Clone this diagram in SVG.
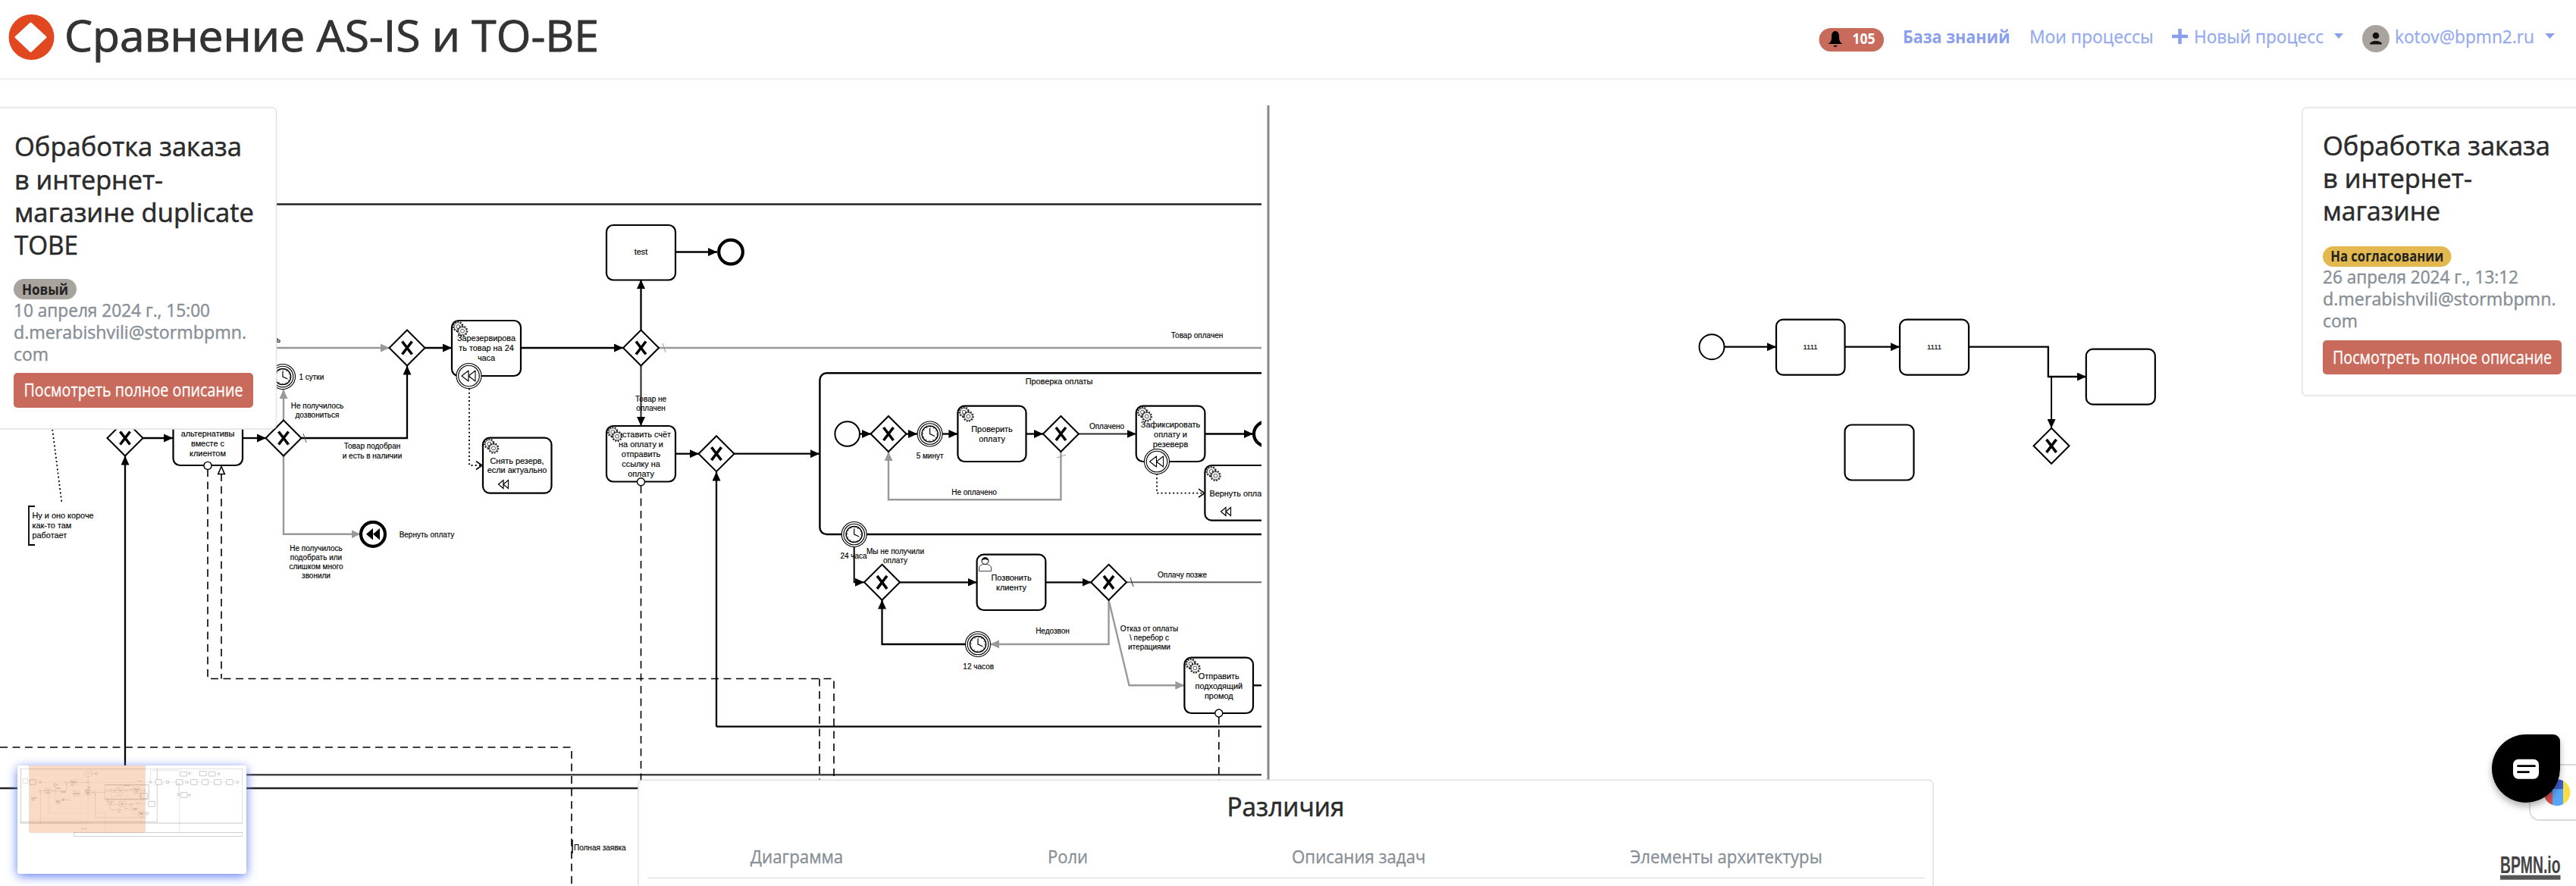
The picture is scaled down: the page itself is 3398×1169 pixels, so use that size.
<svg xmlns="http://www.w3.org/2000/svg" width="3398" height="1169" viewBox="0 0 3398 1169">
<style>
text{font-family:"Liberation Sans",Arial,sans-serif;fill:#000}
.t{font-size:10.9px;text-anchor:middle;stroke:#000;stroke-width:.15}
.l{font-size:10px;text-anchor:middle;stroke:#000;stroke-width:.15}
.a{font-size:10.9px;stroke:#000;stroke-width:.15}
.h{font-family:"Open Sans","Noto Sans",sans-serif;fill:#333;stroke:#333;stroke-width:.9}
.ct{font-family:"Open Sans","Noto Sans",sans-serif;font-size:34px;fill:#2b2b2b;stroke:#2b2b2b;stroke-width:.55}
.m{font-family:"Open Sans","Noto Sans",sans-serif;font-size:24px;fill:#868e96;stroke:#868e96;stroke-width:.4}
.nav{font-family:"Open Sans","Noto Sans",sans-serif;font-size:24px;fill:#95a9ef;stroke:#95a9ef;stroke-width:.3}
.btn{font-family:"Open Sans","Noto Sans",sans-serif;font-size:24px;fill:#fff;stroke:#fff;stroke-width:.3;text-anchor:middle}
.tab{font-family:"Open Sans","Noto Sans",sans-serif;font-size:24px;fill:#868e96;stroke:#868e96;stroke-width:.3;text-anchor:middle}
.task{fill:#fff;stroke:#000;stroke-width:2.2}
.f{fill:none;stroke:#000;stroke-width:2.3}
.fd{fill:none;stroke:#2a2a2a;stroke-width:2.1}
.g{fill:none;stroke:#999;stroke-width:2.4}
.th{fill:none;stroke:#999;stroke-width:1}
.d{fill:none;stroke:#000;stroke-width:1.6;stroke-dasharray:10 6.5}
.dot{fill:none;stroke:#000;stroke-width:1.8;stroke-dasharray:2 3.2}
.lane{fill:none;stroke:#222;stroke-width:2.4}
.card{fill:#fff;stroke:#e2e2e2;stroke-width:1.5}
.ev{fill:#fff;stroke:#000;stroke-width:2}
.evend{fill:#fff;stroke:#000;stroke-width:4.2}
</style>
<defs>
<marker id="ab" markerUnits="userSpaceOnUse" markerWidth="13" markerHeight="11" refX="12" refY="5.5" orient="auto"><path d="M0 0L12 5.5L0 11Z" fill="#000"/></marker>
<marker id="ag" markerUnits="userSpaceOnUse" markerWidth="13" markerHeight="11" refX="12" refY="5.5" orient="auto"><path d="M0 0L12 5.5L0 11Z" fill="#999"/></marker>
<marker id="ao" markerUnits="userSpaceOnUse" markerWidth="11" markerHeight="13" refX="9" refY="6.5" orient="auto"><path d="M1 1L9 6.5L1 12" fill="none" stroke="#000" stroke-width="1.6"/></marker>
<g id="gw"><polygon points="0,-23.5 23.5,0 0,23.5 -23.5,0" fill="#fff" stroke="#000" stroke-width="2"/><path d="M-6.5 -8.5L6.5 8.5M6.5 -8.5L-6.5 8.5" fill="none" stroke="#000" stroke-width="3.6"/></g>
<g id="cog"><circle r="6.3" fill="none" stroke="#222" stroke-width="2" stroke-dasharray="1.9 1.6"/><circle r="5.2" fill="#fff" stroke="#222" stroke-width=".8"/><circle r="2.5" fill="#fff" stroke="#222" stroke-width=".8"/></g>
<g id="gears"><use href="#cog" x="8.3" y="8"/><use href="#cog" x="14" y="13.7"/></g>
<g id="timer"><circle r="16.5" fill="#fff" stroke="#000" stroke-width="1.1"/><circle r="13.8" fill="none" stroke="#000" stroke-width="1.1"/><circle r="10.6" fill="#fff" stroke="#000" stroke-width="1.5"/><circle r="9" fill="none" stroke="#000" stroke-width="1.2" stroke-dasharray=".8 3.9"/><path d="M0 -7.5L0 0L6.5 3" fill="none" stroke="#000" stroke-width="1.2"/></g>
<g id="comp"><circle r="16.5" fill="#fff" stroke="#000" stroke-width="1.1"/><circle r="13.8" fill="none" stroke="#000" stroke-width="1.1"/><path d="M-9.5 0L-0.5 -7V7ZM-0.5 0L8.500 -7V7Z" fill="#fff" stroke="#000" stroke-width="1.1" stroke-linejoin="round"/></g>
<path id="cm" d="M-6.5 0L0 -5.5V5.5ZM0 0L6.5 -5.5V5.5Z" fill="#fff" stroke="#000" stroke-width="1.2"/>
<g id="msg"><circle r="5" fill="#fff" stroke="#000" stroke-width="1.4"/></g>
<clipPath id="leftpane"><rect x="0" y="0" width="1664" height="1169"/></clipPath>
<clipPath id="mini"><rect x="23" y="1010" width="302" height="143" rx="4"/></clipPath>
<clipPath id="gbtn"><circle cx="3373" cy="1045.7" r="17.5"/></clipPath>
<filter id="blue" x="-15%" y="-30%" width="130%" height="160%"><feDropShadow dx="0" dy="3" stdDeviation="7" flood-color="#5f7cf5" flood-opacity="1"/></filter>
<filter id="sh" x="-30%" y="-30%" width="160%" height="160%"><feDropShadow dx="0" dy="5" stdDeviation="5" flood-color="#000" flood-opacity=".3"/></filter>
<filter id="soft" x="0" y="0" width="100%" height="100%"><feGaussianBlur stdDeviation=".45"/></filter>
</defs>
<rect width="3398" height="1169" fill="#fff"/>

<g id="tobe-diagram" clip-path="url(#leftpane)">
<g id="connectors">
<path class="lane" d="M0 269.5H1664M0 1040H850"/>
<path class="lane" d="M30 1022.300H1664" style="stroke:#444"/>
<path class="f" d="M188 578H228" marker-end="url(#ab)"/>
<path class="f" d="M320 578H351" marker-end="url(#ab)"/>
<path class="f" d="M165 1040V601.5" marker-end="url(#ab)"/>
<path class="g" d="M374 555V514" marker-end="url(#ag)"/>
<path class="g" d="M374 601V704.800H475.500" marker-end="url(#ag)"/>
<path class="f" d="M397 578H537V482.5" marker-end="url(#ab)"/>
<path class="th" d="M400 572L404 584" style="stroke:#555"/>
<path class="g" d="M120 459H514" marker-end="url(#ag)"/>
<path class="f" d="M560 459H596" marker-end="url(#ab)"/>
<path class="f" d="M687 459H822" marker-end="url(#ab)"/>
<path class="f" d="M845.5 436V369" marker-end="url(#ab)"/>
<path class="f" d="M891 332.5H946" marker-end="url(#ab)"/>
<path class="g" d="M868 459H1664"/>
<path class="th" d="M874 453L878 465"/>
<path class="fd" d="M845.5 482V562" marker-end="url(#ab)"/>
<path class="f" d="M891 598.7H922" marker-end="url(#ab)"/>
<path class="f" d="M968 598.7H1081" marker-end="url(#ab)"/>
<path class="f" d="M945 958.7V622.5" marker-end="url(#ab)"/>
<path class="f" d="M945 958.7H1664"/>
<path class="f" d="M1134 572.5H1149" marker-end="url(#ab)"/>
<path class="f" d="M1195 572.5H1210" marker-end="url(#ab)"/>
<path class="f" d="M1243 572.5H1263.4" marker-end="url(#ab)"/>
<path class="f" d="M1353.5 572.5H1376" marker-end="url(#ab)"/>
<path class="fd" d="M1423 572.5H1498.7" marker-end="url(#ab)"/>
<path class="f" d="M1589.4 572.5H1653" marker-end="url(#ab)"/>
<path class="g" d="M1399.4 596V659.3H1172V596" marker-end="url(#ag)"/>
<path class="th" d="M1394 604L1406 600"/>
<path class="f" d="M1126.7 721V768.3H1140" marker-end="url(#ab)" style="stroke-width:2"/>
<path class="f" d="M1186.5 768.3H1288.6" marker-end="url(#ab)"/>
<path class="f" d="M1379.3 768.3H1439.5" marker-end="url(#ab)"/>
<path class="fd" d="M1485.5 768.3H1664" style="stroke:#666"/>
<path class="fd" d="M1491 762L1495 774" style="stroke-width:1"/>
<path class="g" d="M1462.5 791.5V850H1306" marker-end="url(#ag)"/>
<path class="f" d="M1273 850H1163.5V791.5" marker-end="url(#ab)"/>
<path class="g" d="M1462.5 791.5L1489.5 904.3H1562.4" marker-end="url(#ag)"/>
<path class="f" d="M1653 904.3H1664"/>
<path class="d" d="M274 619V895.5H1100V1169"/>
<path class="d" d="M292 625V895.5M1081 895.5V1169"/>
<polygon points="292,615.5 296.3,625.5 287.7,625.5" fill="#fff" stroke="#000" stroke-width="1.6"/>
<path class="d" d="M845.5 641V1030"/>
<path class="d" d="M1607.8 946V1030"/>
<path class="d" d="M0 986H754V1169"/>
<path class="dot" d="M619 512.5V614H636" marker-end="url(#ao)"/>
<path class="dot" d="M1526 625V650.7H1589" marker-end="url(#ao)"/>
<path class="dot" d="M62 510L81.6 664.5"/>
<text class="l" x="370" y="452" style="text-anchor:end">ь</text>
<text class="l" x="394.4" y="500.5" style="text-anchor:start">1 сутки</text>
<text class="l" x="418.5" y="538.5">Не получилось</text>
<text class="l" x="418.5" y="550.5">дозвониться</text>
<text class="l" x="491" y="592.2">Товар подобран</text>
<text class="l" x="491" y="604.5">и есть в наличии</text>
<text class="l" x="417" y="726.5">Не получилось</text>
<text class="l" x="417" y="738.5">подобрать или</text>
<text class="l" x="417" y="750.5">слишком много</text>
<text class="l" x="417" y="762.5">звонили</text>
<text class="l" x="563" y="708.5">Вернуть оплату</text>
<text class="l" x="858.6" y="529.5">Товар не</text>
<text class="l" x="858.6" y="541.5">оплачен</text>
<text class="l" x="1579" y="445.5">Товар оплачен</text>
<text class="l" x="1460" y="565.5">Оплачено</text>
<text class="l" x="1285" y="652.5">Не оплачено</text>
<text class="l" x="1226.6" y="604.5">5 минут</text>
<text class="l" x="1126" y="737.2">24 часа</text>
<text class="l" x="1181" y="730.5">Мы не получили</text>
<text class="l" x="1181" y="742.5">оплату</text>
<text class="l" x="1559.6" y="761.5">Оплачу позже</text>
<text class="l" x="1388.5" y="835.5">Недозвон</text>
<text class="l" x="1290.7" y="882.5">12 часов</text>
<text class="l" x="1516" y="832.5">Отказ от оплаты</text>
<text class="l" x="1516" y="844.5">\ перебор с</text>
<text class="l" x="1516" y="856.5">итерациями</text>
<text class="l" x="757" y="1121.5" style="text-anchor:start">Полная заявка</text>
<path d="M755 1108V1126" stroke="#000" stroke-width="1.5" fill="none"/>
</g>

<g id="n-annotation"><path d="M46 668H38V719H46" fill="none" stroke="#000" stroke-width="1.8"/>
<text class="a" x="42.5" y="683.5">Ну и оно короче</text><text class="a" x="42.5" y="696.5">как-то там</text><text class="a" x="42.5" y="709.5">работает</text></g>
<g id="n-gw1"><use href="#gw" x="165" y="578"/></g>
<g id="n-alt"><rect class="task" x="228.5" y="541" width="91.5" height="73" rx="9"/>
<text class="t" x="274" y="575.5">альтернативы</text><text class="t" x="274" y="588.5">вместе с</text><text class="t" x="274" y="601.5">клиентом</text><use href="#msg" x="274" y="614.4"/></g>
<g id="n-gw2"><use href="#gw" x="374" y="578"/></g>
<g id="n-timer-day"><use href="#timer" x="373" y="497"/></g>
<g id="n-gw3"><use href="#gw" x="537" y="459"/></g>
<g id="n-reserve"><rect class="task" x="596" y="423" width="91" height="73" rx="9"/>
<text class="t" x="641.5" y="450">Зарезервирова</text><text class="t" x="641.5" y="463">ть товар на 24</text><text class="t" x="641.5" y="476">часа</text><use href="#gears" x="596" y="423"/><use href="#comp" x="618.5" y="496"/></g>
<g id="n-unreserve"><rect class="task" x="637" y="577.6" width="90.5" height="73" rx="9"/>
<text class="t" x="682" y="611.5">Снять резерв,</text><text class="t" x="682" y="624">если актуально</text><use href="#gears" x="637" y="577.6"/><use href="#cm" x="664" y="639"/></g>
<g id="n-end-refund"><circle class="evend" cx="492" cy="704.8" r="16"/><path d="M483 704.8L492 697V712.6ZM492 704.8L501 697V712.6Z" fill="#000"/></g>
<g id="n-test"><rect class="task" x="800" y="297" width="91" height="72.5" rx="9"/><text class="t" x="845.5" y="336">test</text></g>
<g id="n-end-test"><circle class="evend" cx="964" cy="332.5" r="15.8"/></g>
<g id="n-gw4"><use href="#gw" x="845.5" y="459"/></g>
<g id="n-invoice"><rect class="task" x="800" y="562" width="91" height="73.5" rx="9"/>
<text class="t" x="845.5" y="576.5">Выставить счёт</text><text class="t" x="845.5" y="589.5">на оплату и</text><text class="t" x="845.5" y="602.5">отправить</text><text class="t" x="845.5" y="615.5">ссылку на</text><text class="t" x="845.5" y="628.5">оплату</text><use href="#gears" x="800" y="562"/><use href="#msg" x="845.5" y="635.7"/></g>
<g id="n-gw5"><use href="#gw" x="945" y="598.7"/></g>
<g id="n-subprocess"><rect x="1081.4" y="492.3" width="800" height="212.7" rx="9" fill="none" stroke="#000" stroke-width="2.4"/><text class="t" x="1397" y="507">Проверка оплаты</text></g>
<g id="n-start-sub"><circle class="ev" cx="1117.7" cy="572.5" r="16.3"/></g>
<g id="n-gw6"><use href="#gw" x="1172" y="572.5"/></g>
<g id="n-timer-5"><use href="#timer" x="1226.6" y="572.5"/></g>
<g id="n-check"><rect class="task" x="1263.4" y="535.7" width="90.1" height="73.3" rx="9"/><text class="t" x="1308.5" y="569.5">Проверить</text><text class="t" x="1308.5" y="582.5">оплату</text><use href="#gears" x="1263.4" y="535.7"/></g>
<g id="n-gw7"><use href="#gw" x="1399.4" y="572.5"/></g>
<g id="n-fix"><rect class="task" x="1498.7" y="535.7" width="90.7" height="73.3" rx="9"/><text class="t" x="1544" y="563.5">Зафиксировать</text><text class="t" x="1544" y="576.5">оплату и</text><text class="t" x="1544" y="589.5">резеверв</text><use href="#gears" x="1498.7" y="535.7"/><use href="#comp" x="1526" y="609"/></g>
<g id="n-end-sub"><circle class="evend" cx="1670" cy="572.5" r="16"/></g>
<g id="n-refund"><rect class="task" x="1589.4" y="614" width="91" height="72.7" rx="9"/><text class="t" x="1635" y="654.5">Вернуть оплату</text><use href="#gears" x="1589.4" y="614"/><use href="#cm" x="1617" y="675"/></g>
<g id="n-timer-24"><use href="#timer" x="1126.7" y="705"/></g>
<g id="n-gw8"><use href="#gw" x="1163.5" y="768.3"/></g>
<g id="n-call"><rect class="task" x="1288.6" y="731.7" width="90.7" height="73.3" rx="9"/><text class="t" x="1334" y="765.5">Позвонить</text><text class="t" x="1334" y="778.5">клиенту</text>
<path d="M1291.5 753.5V749C1291.5 746.5 1295 745 1296.5 744.5H1302C1304 745 1307.5 746.5 1307.5 749V753.5Z" fill="#fff" stroke="#333" stroke-width=".9"/><circle cx="1299.5" cy="740" r="4.5" fill="#fff" stroke="#000" stroke-width="1"/><path d="M1295 739.5C1295.5 734.5 1303.5 734.5 1304 739.5C1301 737.5 1298 737.5 1295 739.5Z" fill="#000"/></g>
<g id="n-gw9"><use href="#gw" x="1462.5" y="768.3"/></g>
<g id="n-timer-12"><use href="#timer" x="1290" y="850"/></g>
<g id="n-promo"><rect class="task" x="1562.4" y="867.7" width="90.6" height="73.3" rx="9"/><text class="t" x="1607.8" y="895.5">Отправить</text><text class="t" x="1607.8" y="908.5">подходящий</text><text class="t" x="1607.8" y="921.5">промод</text><use href="#gears" x="1562.4" y="867.7"/><use href="#msg" x="1607.8" y="941"/></g>
</g>

<rect id="divider" x="1671.5" y="139" width="3" height="891" fill="#888"/>

<g id="asis-diagram">
<g id="asis-connectors">
<path class="f" d="M2275 457.7H2343" marker-end="url(#ab)"/>
<path class="f" d="M2433.5 457.7H2506" marker-end="url(#ab)"/>
<path class="f" d="M2597 457.7H2701.8V497H2752" marker-end="url(#ab)"/>
<path class="f" d="M2706 497V565" marker-end="url(#ab)" style="stroke-width:2"/>
</g>
<g id="a-start"><circle class="ev" cx="2258" cy="457.7" r="16.5"/></g>
<g id="a-t1"><rect class="task" x="2343" y="421.7" width="90.5" height="73" rx="9"/><text class="t" x="2388" y="461" style="font-size:9.5px">1111</text></g>
<g id="a-t2"><rect class="task" x="2506" y="421.7" width="91" height="73" rx="9"/><text class="t" x="2551.5" y="461" style="font-size:9.5px">1111</text></g>
<g id="a-t3"><rect class="task" x="2751.8" y="460.7" width="91" height="73" rx="9"/></g>
<g id="a-t4"><rect class="task" x="2433.5" y="560.5" width="91" height="73" rx="9"/></g>
<g id="a-gw"><use href="#gw" x="2706" y="588.3"/></g>
</g>

<g id="header">
<circle cx="41.5" cy="49" r="30" fill="#e2481f"/>
<path d="M40.5 31L60 49L40.5 67.5L21 49Z" fill="#fff" stroke="#fff" stroke-width="3" stroke-linejoin="round"/>
<text class="h" x="85" y="68" font-size="56" textLength="705" lengthAdjust="spacingAndGlyphs">Сравнение AS-IS и TO-BE</text>
<rect x="0" y="103" width="3398" height="2.4" fill="#f2f2f2"/>
<g id="nav">
<rect x="2399.5" y="37" width="85.5" height="31" rx="15.5" fill="#c96b5c"/>
<path d="M2421 41C2417 41 2416 45 2416 49C2416 54 2414.5 56 2411.5 58H2430.5C2427.5 56 2426 54 2426 49C2426 45 2425 41 2421 41ZM2418.5 60C2418.8 62.5 2423.2 62.5 2423.5 60Z" fill="#000"/>
<text x="2443.5" y="58" font-size="19" font-weight="700" style="font-family:'Open Sans',sans-serif;fill:#fff" textLength="30" lengthAdjust="spacingAndGlyphs">105</text>
<text class="nav" x="2510" y="57" font-weight="700" style="fill:#8aa0ec;stroke:none" textLength="141.5" lengthAdjust="spacingAndGlyphs">База знаний</text>
<text class="nav" x="2677" y="57" textLength="163.5" lengthAdjust="spacingAndGlyphs">Мои процессы</text>
<path d="M2865 48H2886M2875.5 38V58" stroke="#8aa0ec" stroke-width="4.5" fill="none"/>
<text class="nav" x="2894" y="57" textLength="171" lengthAdjust="spacingAndGlyphs">Новый процесс</text>
<polygon points="3079,44 3091,44 3085,51" fill="#8aa0ec"/>
<circle cx="3134" cy="51" r="18" fill="#a8a39c"/>
<circle cx="3134" cy="47" r="4.3" fill="#111"/><path d="M3126 58.5C3126 52.5 3142 52.5 3142 58.5Z" fill="#111"/>
<text class="nav" x="3159" y="57" textLength="184" lengthAdjust="spacingAndGlyphs">kotov@bpmn2.ru</text>
<polygon points="3357,44 3370,44 3363.5,51" fill="#8aa0ec"/>
</g>
</g>

<g id="card-left">
<rect class="card" x="-10" y="142" width="374.5" height="424" rx="6"/>
<text class="ct" x="19" y="206" textLength="300" lengthAdjust="spacingAndGlyphs">Обработка заказа</text>
<text class="ct" x="19" y="249.5" textLength="196" lengthAdjust="spacingAndGlyphs">в интернет-</text>
<text class="ct" x="19" y="292.5" textLength="316" lengthAdjust="spacingAndGlyphs">магазине duplicate</text>
<text class="ct" x="19" y="335.5" textLength="84" lengthAdjust="spacingAndGlyphs">TOBE</text>
<rect x="18" y="368" width="83" height="27" rx="13.5" fill="#a8a39c"/>
<text x="59.5" y="389" font-size="20" font-weight="700" text-anchor="middle" style="font-family:'Open Sans',sans-serif;fill:#222" textLength="61" lengthAdjust="spacingAndGlyphs">Новый</text>
<text class="m" x="18" y="418" textLength="259" lengthAdjust="spacingAndGlyphs">10 апреля 2024 г., 15:00</text>
<text class="m" x="18" y="447" textLength="307" lengthAdjust="spacingAndGlyphs">d.merabishvili@stormbpmn.</text>
<text class="m" x="18" y="475.5" textLength="46" lengthAdjust="spacingAndGlyphs">com</text>
<rect x="18" y="492" width="316" height="46" rx="5" fill="#c96b5c"/>
<text class="btn" x="176" y="523" textLength="289" lengthAdjust="spacingAndGlyphs">Посмотреть полное описание</text>
</g>

<g id="card-right">
<rect class="card" x="3036.7" y="142" width="380" height="380" rx="6"/>
<text class="ct" x="3064" y="204.5" textLength="300" lengthAdjust="spacingAndGlyphs">Обработка заказа</text>
<text class="ct" x="3064" y="247.5" textLength="197" lengthAdjust="spacingAndGlyphs">в интернет-</text>
<text class="ct" x="3064" y="291" textLength="155" lengthAdjust="spacingAndGlyphs">магазине</text>
<rect x="3064" y="325" width="169.5" height="27" rx="13.5" fill="#e3b94f"/>
<text x="3148.7" y="345" font-size="20" font-weight="700" text-anchor="middle" style="font-family:'Open Sans',sans-serif;fill:#222" textLength="149" lengthAdjust="spacingAndGlyphs">На согласовании</text>
<text class="m" x="3064" y="374" textLength="258" lengthAdjust="spacingAndGlyphs">26 апреля 2024 г., 13:12</text>
<text class="m" x="3064" y="402.7" textLength="307.5" lengthAdjust="spacingAndGlyphs">d.merabishvili@stormbpmn.</text>
<text class="m" x="3064" y="431.5" textLength="46" lengthAdjust="spacingAndGlyphs">com</text>
<rect x="3064" y="449" width="315" height="45" rx="5" fill="#c96b5c"/>
<text class="btn" x="3221.5" y="480" textLength="289" lengthAdjust="spacingAndGlyphs">Посмотреть полное описание</text>
</g>

<g id="card-diff">
<rect class="card" x="842" y="1029.3" width="1708" height="170" rx="6"/>
<text x="1696" y="1077" text-anchor="middle" class="ct" textLength="155" lengthAdjust="spacingAndGlyphs">Различия</text>
<text class="tab" x="1051" y="1139" textLength="122.5" lengthAdjust="spacingAndGlyphs">Диаграмма</text>
<text class="tab" x="1408.6" y="1139" textLength="53" lengthAdjust="spacingAndGlyphs">Роли</text>
<text class="tab" x="1792.3" y="1139" textLength="176.5" lengthAdjust="spacingAndGlyphs">Описания задач</text>
<text class="tab" x="2277" y="1139" textLength="253.5" lengthAdjust="spacingAndGlyphs">Элементы архитектуры</text>
<path d="M854.5 1158.5H2539" stroke="#dee2e6" stroke-width="1.5" fill="none"/>
</g>

<g id="minimap">
<rect x="23" y="1010" width="302" height="143" rx="4" fill="#fff" filter="url(#blue)"/>
<g clip-path="url(#mini)">
<g filter="url(#soft)">
<use href="#tobe-diagram" transform="translate(38 990) scale(.0925)" opacity=".5"/>
<g transform="translate(20 1005) scale(.33333)" fill="#fff" stroke="#999" stroke-width="1.6">
<rect x="22" y="27" width="878" height="216" fill="none" stroke="#bbb" stroke-width="2.5"/>
<path d="M22 238H562V27" fill="none" stroke="#bbb" stroke-width="2"/>
<path d="M515 81H880M535 81V35H650M650 90V281M646 100V135" fill="none" stroke="#ccc" stroke-width="1.5"/>
<path d="M355 92H529V148H355" fill="none"/>
<rect x="58" y="71" width="24" height="20" rx="2"/>
<rect x="556" y="71" width="24" height="20" rx="2"/><rect x="637" y="71" width="26" height="20" rx="2"/><rect x="695" y="71" width="25" height="20" rx="2"/><rect x="740" y="71" width="24" height="20" rx="2"/><rect x="788" y="71" width="26" height="20" rx="2"/><rect x="836" y="71" width="26" height="20" rx="2"/>
<rect x="652" y="40" width="28" height="17" rx="2"/><rect x="730" y="38" width="27" height="18" rx="2"/><rect x="766" y="40" width="26" height="17" rx="2"/><rect x="655" y="122" width="26" height="20" rx="2"/>
<rect x="527" y="157" width="26" height="20" rx="2"/><rect x="497" y="125" width="26" height="21" rx="2"/>
<circle cx="690" cy="46" r="4"/><circle cx="805" cy="48" r="4"/><circle cx="603" cy="81" r="5"/><circle cx="680" cy="81" r="5"/><circle cx="880" cy="81" r="5"/><circle cx="522" cy="205" r="5"/><circle cx="690" cy="132" r="4"/><circle cx="535" cy="81" r="4"/><circle cx="646" cy="90" r="4"/><circle cx="646" cy="130" r="4"/>
<circle cx="158" cy="92" r="5"/><circle cx="100" cy="81" r="4"/>
<rect x="233" y="281" width="667" height="14" stroke="#aaa"/>
<rect x="30" y="68" width="20" height="18" fill="none" stroke="#ccc"/>
</g>
</g>
<rect x="38" y="1005" width="154" height="94" rx="3" fill="#ef9a5f" opacity=".36"/>
</g>
</g>

<g id="chat-widget">
<rect x="3337" y="1009" width="80" height="73" rx="13" fill="#fff" stroke="#ccc" stroke-width="1.3"/>
<g clip-path="url(#gbtn)"><rect x="3355" y="1028" width="12" height="18" fill="#3f5ec9"/><rect x="3355" y="1046" width="12" height="18" fill="#d84f4f"/><rect x="3367" y="1028" width="14" height="13" fill="#3f5ec9"/><rect x="3367" y="1041" width="14" height="23" fill="#56a5f7"/><rect x="3381" y="1028" width="12" height="36" fill="#f7df4b"/></g>
<path d="M3332 969H3368A9 9 0 0 1 3377 978V1014A45 45 0 0 1 3287 1014A45 45 0 0 1 3332 969Z" fill="#000" filter="url(#sh)"/>
<rect x="3315" y="1001.7" width="34" height="26" rx="7" fill="#fff"/>
<path d="M3321.5 1010.7H3343.5M3321.5 1018.7H3335.5" stroke="#000" stroke-width="2.8" stroke-linecap="round" fill="none"/>
</g>

<g id="bpmn-io">
<text x="3298" y="1152" font-size="31" font-weight="700" style="fill:#444" textLength="79.5" lengthAdjust="spacingAndGlyphs">BPMN.io</text>
<rect x="3298" y="1154.7" width="79.5" height="6" fill="#555"/>
</g>
</svg>
